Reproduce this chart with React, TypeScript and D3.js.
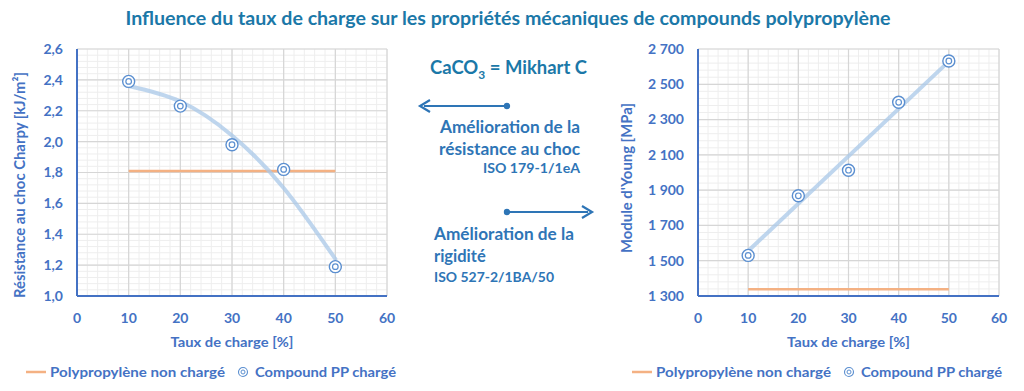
import { useMemo } from "react";
import * as d3 from "d3";

const xTicks = [0, 10, 20, 30, 40, 50, 60];
const charge = [10, 20, 30, 40, 50];

const charpyValues = [2.39, 2.23, 1.98, 1.82, 1.19];
const charpyTrend = [2.36, 2.26, 2.04, 1.7, 1.24];
const charpyRef = 1.81;
const charpyTicks = [1.0, 1.2, 1.4, 1.6, 1.8, 2.0, 2.2, 2.4, 2.6];

const youngValues = [1530, 1868, 2013, 2398, 2632];
const youngTrendX = [10, 50];
const youngTrend = [1555, 2630];
const youngRef = 1338;
const youngTicks = [1300, 1500, 1700, 1900, 2100, 2300, 2500, 2700];

const FONT = "Lato, 'Open Sans', sans-serif";
const AXIS_BLUE = "#4472C4";
const TOP = 49;
const BOTTOM = 296;

interface PanelProps {
  left: number;
  right: number;
  ticks: number[];
  minorStep: number;
  format: (v: number) => string;
  values: number[];
  trendX: number[];
  trend: number[];
  curved: boolean;
  refValue: number;
  yTitle: string;
  yTitleX: number;
  yTitleY: number;
  yTitleLen: number;
  legendX: number;
}

function Panel(p: PanelProps) {
  const x = d3.scaleLinear().domain([0, 60]).range([p.left, p.right]);
  const y = d3
    .scaleLinear()
    .domain([p.ticks[0], p.ticks[p.ticks.length - 1]])
    .range([BOTTOM, TOP]);

  const minorX = d3.range(0, 60.001, 2);
  const minorY = d3.range(p.ticks[0], p.ticks[p.ticks.length - 1] + p.minorStep / 2, p.minorStep);

  const trendPath = useMemo(() => {
    const pts = p.trendX.map((v, i) => [v, p.trend[i]] as [number, number]);
    return (
      d3
        .line<[number, number]>()
        .x((d) => x(d[0]))
        .y((d) => y(d[1]))
        .curve(p.curved ? d3.curveNatural : d3.curveLinear)(pts) ?? ""
    );
  }, [p]);

  return (
    <g fontFamily={FONT}>
      {minorX.map((v) => (
        <line key={"mx" + v} x1={x(v)} x2={x(v)} y1={TOP} y2={BOTTOM} stroke="#EEEEEE" strokeWidth={1} />
      ))}
      {minorY.map((v, i) => (
        <line key={"my" + i} x1={p.left} x2={p.right} y1={y(v)} y2={y(v)} stroke="#EEEEEE" strokeWidth={1} />
      ))}
      {xTicks.map((v) => (
        <line key={"gx" + v} x1={x(v)} x2={x(v)} y1={TOP} y2={BOTTOM} stroke="#D6D6D6" strokeWidth={1.2} />
      ))}
      {p.ticks.map((v) => (
        <line key={"gy" + v} x1={p.left} x2={p.right} y1={y(v)} y2={y(v)} stroke="#D6D6D6" strokeWidth={1.2} />
      ))}
      <line x1={p.left} x2={p.left} y1={TOP} y2={BOTTOM} stroke={AXIS_BLUE} strokeWidth={2} />
      <line x1={p.left} x2={p.right} y1={BOTTOM} y2={BOTTOM} stroke={AXIS_BLUE} strokeWidth={2} />

      {p.ticks.map((v) => (
        <text
          key={"ty" + v}
          x={p.left - 14}
          y={y(v)}
          dy="0.35em"
          textAnchor="end"
          fontSize={14}
          fontWeight={700}
          fill={AXIS_BLUE}
        >
          {p.format(v)}
        </text>
      ))}
      {xTicks.map((v) => (
        <text
          key={"tx" + v}
          x={x(v)}
          y={318}
          dy="0.35em"
          textAnchor="middle"
          fontSize={14}
          fontWeight={700}
          fill={AXIS_BLUE}
        >
          {v}
        </text>
      ))}

      <line
        x1={x(charge[0])}
        x2={x(charge[charge.length - 1])}
        y1={y(p.refValue)}
        y2={y(p.refValue)}
        stroke="#F4B183"
        strokeWidth={2.5}
      />
      <path d={trendPath} fill="none" stroke="#A9C8E8" strokeOpacity={0.75} strokeWidth={4} strokeLinecap="round" />
      {charge.map((c, i) => (
        <g key={"pt" + c}>
          <circle cx={x(c)} cy={y(p.values[i])} r={6} fill="white" stroke="#5B8FD0" strokeWidth={1.4} />
          <circle cx={x(c)} cy={y(p.values[i])} r={2.8} fill="none" stroke="#5B8FD0" strokeWidth={1.2} />
        </g>
      ))}

      <text
        x={(p.left + p.right) / 2}
        y={342}
        dy="0.35em"
        textAnchor="middle"
        fontSize={14}
        fontWeight={700}
        fill={AXIS_BLUE}
        textLength={123}
        lengthAdjust="spacingAndGlyphs"
      >
        Taux de charge [%]
      </text>
      <text
        transform={`translate(${p.yTitleX},${p.yTitleY}) rotate(-90)`}
        dy="0.35em"
        textAnchor="middle"
        fontSize={14.5}
        fontWeight={700}
        fill={AXIS_BLUE}
        textLength={p.yTitleLen}
        lengthAdjust="spacingAndGlyphs"
      >
        {p.yTitle}
      </text>

      <g transform={`translate(${p.legendX},372)`}>
        <line x1={0} x2={20} y1={0} y2={0} stroke="#F4B183" strokeWidth={2.5} />
        <text x={24} y={0} dy="0.35em" fontSize={14} fontWeight={700} fill={AXIS_BLUE} textLength={175} lengthAdjust="spacingAndGlyphs">
          Polypropylène non chargé
        </text>
        <circle cx={217} cy={0} r={4.5} fill="white" stroke="#5B8FD0" strokeWidth={1.1} />
        <circle cx={217} cy={0} r={2} fill="none" stroke="#5B8FD0" strokeWidth={1} />
        <text x={229} y={0} dy="0.35em" fontSize={14} fontWeight={700} fill={AXIS_BLUE} textLength={141} lengthAdjust="spacingAndGlyphs">
          Compound PP chargé
        </text>
      </g>
    </g>
  );
}

const fmtComma = (v: number) => v.toFixed(1).replace(".", ",");
const fmtSpace = (v: number) => {
  const s = String(v);
  return s.length > 3 ? s.slice(0, s.length - 3) + " " + s.slice(-3) : s;
};

export default function App() {
  const TEAL = "#1B78A8";
  const ARROW = "#2E75B6";
  return (
    <div style={{ position: "fixed", left: 0, top: 0 }}>
      <svg width={1024} height={391} style={{ display: "block", background: "white" }}>
        <text
          x={508}
          y={19}
          dy="0.35em"
          textAnchor="middle"
          fontFamily={FONT}
          fontSize={18}
          fontWeight={700}
          fill={TEAL}
          textLength={765}
          lengthAdjust="spacingAndGlyphs"
        >
          Influence du taux de charge sur les propriétés mécaniques de compounds polypropylène
        </text>

        <Panel
          left={77}
          right={387}
          ticks={charpyTicks}
          minorStep={0.04}
          format={fmtComma}
          values={charpyValues}
          trendX={charge}
          trend={charpyTrend}
          curved={true}
          refValue={charpyRef}
          yTitle="Résistance au choc Charpy [kJ/m²]"
          yTitleX={20}
          yTitleY={185}
          yTitleLen={226}
          legendX={26}
        />
        <Panel
          left={698}
          right={999}
          ticks={youngTicks}
          minorStep={40}
          format={fmtSpace}
          values={youngValues}
          trendX={youngTrendX}
          trend={youngTrend}
          curved={false}
          refValue={youngRef}
          yTitle="Module d'Young [MPa]"
          yTitleX={627}
          yTitleY={178}
          yTitleLen={150}
          legendX={632}
        />

        <g fontFamily={FONT} fontWeight={700}>
          <text x={430} y={68} dy="0.35em" fontSize={18.5} fill={TEAL} textLength={157} lengthAdjust="spacingAndGlyphs">
            CaCO<tspan fontSize={12} dy={5}>3</tspan>
            <tspan dy={-5}> = Mikhart C</tspan>
          </text>

          <line x1={424} x2={507} y1={106} y2={106} stroke={ARROW} strokeWidth={2.2} />
          <path d="M 430 100 L 420 106 L 430 112" fill="none" stroke={ARROW} strokeWidth={2.2} />
          <circle cx={507} cy={106} r={3.2} fill={ARROW} />

          <text x={580} y={127} dy="0.35em" textAnchor="end" fontSize={16.5} fill={ARROW} textLength={140} lengthAdjust="spacingAndGlyphs">Amélioration de la</text>
          <text x={580} y={149} dy="0.35em" textAnchor="end" fontSize={16.5} fill={ARROW} textLength={141} lengthAdjust="spacingAndGlyphs">résistance au choc</text>
          <text x={580} y={168} dy="0.35em" textAnchor="end" fontSize={13.5} fill={ARROW} textLength={97} lengthAdjust="spacingAndGlyphs">ISO 179-1/1eA</text>

          <line x1={507} x2={588} y1={212} y2={212} stroke={ARROW} strokeWidth={2.2} />
          <path d="M 582 206 L 592 212 L 582 218" fill="none" stroke={ARROW} strokeWidth={2.2} />
          <circle cx={507} cy={212} r={3.2} fill={ARROW} />

          <text x={434} y={234} dy="0.35em" fontSize={16.5} fill={ARROW} textLength={140} lengthAdjust="spacingAndGlyphs">Amélioration de la</text>
          <text x={434} y={256} dy="0.35em" fontSize={16.5} fill={ARROW}>rigidité</text>
          <text x={434} y={277} dy="0.35em" fontSize={13.5} fill={ARROW} textLength={120} lengthAdjust="spacingAndGlyphs">ISO 527-2/1BA/50</text>
        </g>
      </svg>
    </div>
  );
}
